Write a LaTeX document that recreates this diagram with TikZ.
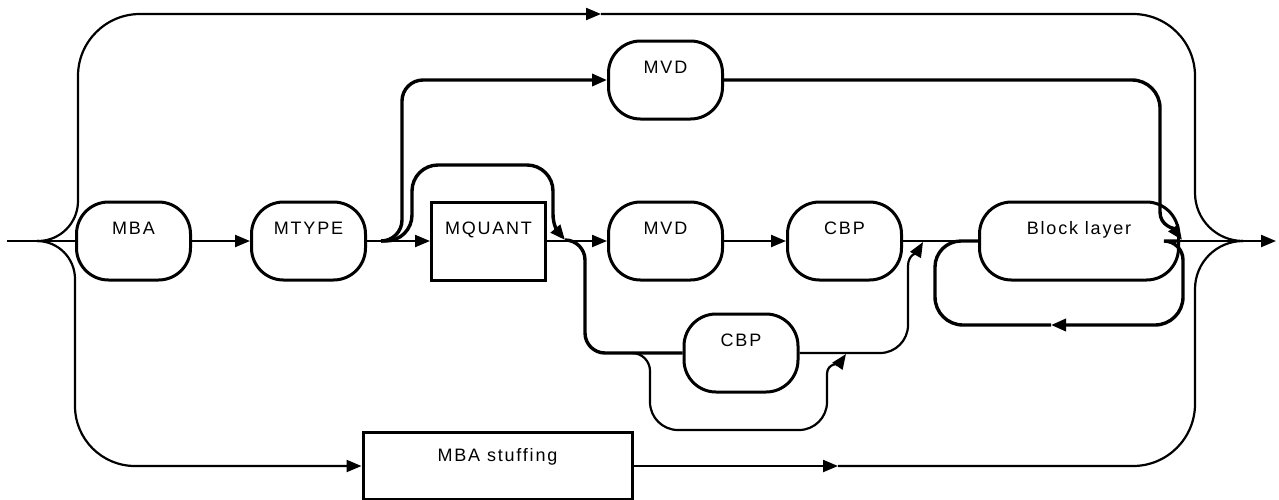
\documentclass[tikz,border=0pt]{standalone}
\usepackage{fontspec}
\newfontfamily\diagfont[LetterSpace=10]{Liberation Sans}
\usetikzlibrary{arrows.meta,positioning}

\begin{document}
\begin{tikzpicture}[
    x=0.5pt, y=-0.5pt,
    >={Triangle[length=7.5pt,width=6pt]},
    term/.style={draw, line width=1.5pt, rounded corners=16pt, minimum width=57pt, minimum height=39pt, inner sep=0pt, font=\diagfont\fontsize{9pt}{10pt}\selectfont, text height=6pt, text depth=13pt},
    box/.style={term, sharp corners},
    line/.style={->, line width=1.1pt},
    wire/.style={line width=1.1pt},
    heavy/.style={line width=1.7pt}
]
\useasboundingbox (0,0) rectangle (1279,499);

% Main row of the macroblock syntax.
\node[term] (mba) at (133.5,241) {MBA};
\node[term, right=29pt of mba] (mtype) {MTYPE};
\node[box, right=31.5pt of mtype] (mquant) {MQUANT};
\node[term, right=30pt of mquant] (mvd) {MVD};
\node[term, right=31pt of mvd] (cbp) {CBP};
\node[term, right=37.5pt of cbp, minimum width=99.5pt] (blk) {Block layer};

% Alternative branches above and below.
\node[term, above=40pt of mvd] (mvdtop) {MVD};
\node[term] (cbplow) at (741,353) {CBP};
\node[box, minimum width=134.5pt, minimum height=33.5pt, text depth=10.5pt] (stuff) at (497.5,466) {MBA stuffing};

% Junctions, bends and mid-line arrow points.
\coordinate (start) at (7,241);
\coordinate (jin) at (37,241);
\coordinate (jout) at (1243,241);
\coordinate (finish) at (1276,241);
\coordinate (topL) at (78,150);
\coordinate (topR) at (1195,150);
\coordinate (topmid) at (601,14);
\coordinate (botL) at (75,350);
\coordinate (botR) at (1195,350);
\coordinate (botmid) at (838,466);
\coordinate (split1) at (381,241);
\coordinate (up1) at (402,150);
\coordinate (skipA) at (412,165);
\coordinate (skipB) at (553,165);
\coordinate (skipC) at (553,214);
\coordinate (merge1) at (565,240);
\coordinate (low1) at (585,300);
\coordinate (split2) at (632,353);
\coordinate (byL) at (650,400);
\coordinate (byC) at (827,430);
\coordinate (byR) at (827,374);
\coordinate (merge2) at (846,354);
\coordinate (rise3) at (908,266);
\coordinate (merge3) at (923,242);
\coordinate (drop4) at (1160,212);
\coordinate (merge4) at (1182,240);
\coordinate (loopR) at (1183,290);
\coordinate (loopL) at (935,290);
\coordinate (loopmid) at (1051,325);

% Main line.
\draw[wire] (start) -- (mba);
\draw[line] (mba) -- (mtype);
\draw[line] (mtype) -- (mquant);
\draw[line] (mquant) -- (mvd);
\draw[line] (mvd) -- (cbp);
\draw[wire] (cbp) -- (blk);
\draw[line] (blk) -- (finish);

% Outer bypass over everything.
\draw[wire, rounded corners=20pt] (jin) -| (topL);
\draw[line, rounded corners=31pt] (topL) |- (topmid);
\draw[wire, rounded corners=31pt] (topmid) -| (topR);
\draw[wire, rounded corners=24pt] (topR) |- (jout);

% Stuffing path underneath.
\draw[wire, rounded corners=19pt] (jin) -| (botL);
\draw[line, rounded corners=30pt] (botL) |- (stuff.west);
\draw[line] (stuff.east) -- (botmid);
\draw[wire, rounded corners=31pt] (botmid) -| (botR);
\draw[wire, rounded corners=24pt] (botR) |- (jout);

% Upper MVD branch.
\draw[line, heavy, rounded corners=10.5pt] (split1) -| (up1) |- (mvdtop.west);
\draw[heavy, rounded corners=14pt] (mvdtop.east) -| (drop4);
\draw[line, heavy] (drop4) to[out=-90,in=125] (merge4);

% Skip MQUANT.
\draw[heavy, rounded corners=13pt] (split1) -| (skipA) -- (skipB) -- (skipC);
\draw[line, heavy] (skipC) to[out=-90,in=130] (merge1);

% Lower CBP branch and its bypass.
\draw[heavy, rounded corners=10pt] (merge1) -| (low1) |- (cbplow.west);
\draw[wire, rounded corners=9pt] (split2) -| (byL);
\draw[wire, rounded corners=14pt] (byL) |- (byC) -- (byR);
\draw[line] (byR) to[out=90,in=-125] (merge2);
\draw[wire, rounded corners=14pt] (cbplow.east) -| (rise3);
\draw[line] (rise3) to[out=90,in=-120] (merge3);

% Repeat loop round the block layer.
\draw[heavy, rounded corners=9.5pt] (blk.east) -| (loopR);
\draw[line, heavy, rounded corners=14pt] (loopR) |- (loopmid);
\draw[heavy, rounded corners=14pt] (loopmid) -| (loopL);
\draw[heavy, rounded corners=13pt] (loopL) |- (blk.west);

\end{tikzpicture}
\end{document}
